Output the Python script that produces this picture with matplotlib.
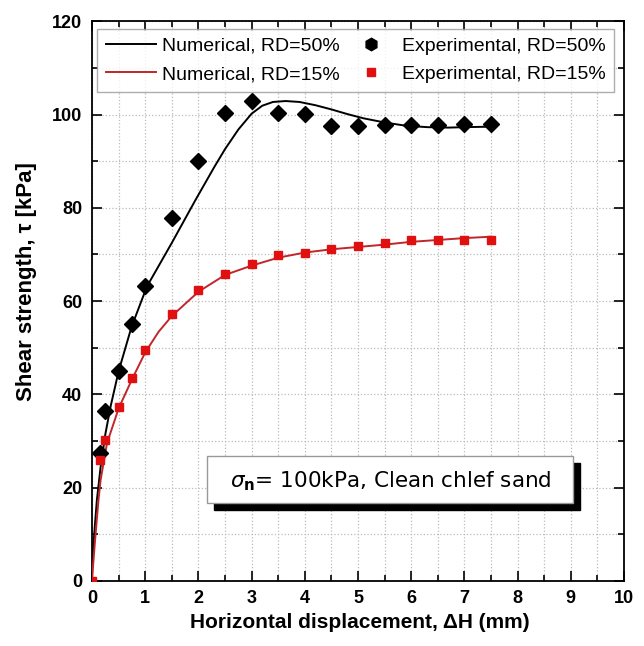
import matplotlib.pyplot as plt
from matplotlib.lines import Line2D
from matplotlib.patches import Rectangle
from matplotlib.ticker import MultipleLocator

plt.rcParams['font.family'] = ['Liberation Sans', 'DejaVu Sans']

# experimental points
exp50_x = [0.15, 0.25, 0.5, 0.75, 1.0, 1.5, 2.0, 2.5, 3.0, 3.5, 4.0, 4.5, 5.0, 5.5, 6.0, 6.5, 7.0, 7.5]
exp50_y = [27.3, 36.5, 45.0, 55.0, 63.2, 77.9, 90.1, 100.4, 102.9, 100.4, 100.1, 97.5, 97.6, 97.7, 97.7, 97.7, 97.9, 97.9]
exp15_x = [0.0, 0.15, 0.25, 0.5, 0.75, 1.0, 1.5, 2.0, 2.5, 3.0, 3.5, 4.0, 4.5, 5.0, 5.5, 6.0, 6.5, 7.0, 7.5]
exp15_y = [0.0, 26.0, 30.2, 37.2, 43.4, 49.4, 57.2, 62.3, 65.9, 67.9, 69.9, 70.4, 71.1, 71.9, 72.4, 73.0, 73.0, 73.0, 73.0]

# numerical curves
num50_x = [0.0, 0.01, 0.05, 0.09, 0.16, 0.25, 0.35, 0.5, 0.74, 1.03, 1.5, 1.94, 2.3, 2.5, 2.75, 3.0, 3.2, 3.4, 3.64,
           3.9, 4.2, 4.5, 4.8, 5.1, 5.5, 5.9, 6.3, 6.7, 7.0, 7.5]
num50_y = [4.0, 5.2, 11.5, 17.3, 24.4, 31.5, 37.5, 45.0, 54.4, 63.1, 72.5, 81.6, 88.8, 92.6, 96.8, 100.2, 101.9, 102.7, 102.9,
           102.7, 102.0, 101.1, 100.1, 99.2, 98.3, 97.6, 97.3, 97.2, 97.3, 97.4]
num15_x = [0.0, 0.02, 0.056, 0.12, 0.16, 0.28, 0.5, 0.75, 1.0, 1.25, 1.5, 2.0, 2.5, 3.0, 3.5, 4.0, 4.5, 5.0,
           5.5, 6.0, 6.5, 7.0, 7.5]
num15_y = [0.0, 3.5, 8.7, 17.3, 21.6, 29.5, 37.0, 43.2, 49.0, 53.4, 56.8, 62.0, 65.6, 67.6, 69.3, 70.4, 71.1, 71.6,
           72.1, 72.7, 73.1, 73.5, 73.8]

fig = plt.figure(figsize=(6.44, 6.46), dpi=100)
ax = fig.add_axes([0.143, 0.101, 0.826, 0.866])

ax.plot(num50_x, num50_y, color='black', lw=1.4, zorder=3)
ax.plot(num15_x, num15_y, color='#c0262b', lw=1.4, zorder=3)
ax.plot(exp50_x, exp50_y, ls='none', marker='D', ms=8, color='black', zorder=4)
ax.plot(exp15_x, exp15_y, ls='none', marker='s', ms=6.3, color='#e01010', zorder=4)

ax.set_xlim(0, 10)
ax.set_ylim(0, 120)
ax.xaxis.set_major_locator(MultipleLocator(1))
ax.xaxis.set_minor_locator(MultipleLocator(0.5))
ax.yaxis.set_major_locator(MultipleLocator(20))
ax.yaxis.set_minor_locator(MultipleLocator(10))
ax.tick_params(which='both', direction='in', top=True, right=True, width=1.2)
ax.tick_params(which='major', length=7, labelsize=13, pad=7)
ax.tick_params(which='minor', length=4)
for lab in ax.get_xticklabels() + ax.get_yticklabels():
    lab.set_fontweight('bold')
for s in ax.spines.values():
    s.set_linewidth(1.3)
ax.grid(True, which='both', color='#bbbbbb', ls=':', lw=0.9, zorder=0)

ax.set_xlabel('Horizontal displacement, \u0394H (mm)', fontsize=15, fontweight='bold')
ax.set_ylabel('Shear strength, \u03c4 [kPa]', fontsize=16, fontweight='bold')
ax.xaxis.set_label_coords(0.504, -0.058)
ax.yaxis.set_label_coords(-0.103, 0.535)

handles = [
    Line2D([], [], color='black', lw=1.4),
    Line2D([], [], color='#c0262b', lw=1.4),
    Line2D([], [], ls='none', marker='h', ms=9, color='black'),
    Line2D([], [], ls='none', marker='s', ms=6, color='#e01010'),
]
labels = ['Numerical, RD=50%', 'Numerical, RD=15%', 'Experimental, RD=50%', 'Experimental, RD=15%']
leg = ax.legend(handles, labels, ncol=2, loc='upper left', bbox_to_anchor=(0.009, 0.987),
                fontsize=14, frameon=True, fancybox=False, edgecolor='#999999',
                handlelength=2.6, handletextpad=0.3, columnspacing=0.3,
                borderpad=0.45, borderaxespad=0.0, labelspacing=0.55)
leg.get_frame().set_linewidth(1.0)

# annotation box with shadow
ax.add_patch(Rectangle((0.229, 0.1265), 0.688, 0.084, transform=ax.transAxes,
                       facecolor='black', edgecolor='black', zorder=5))
ax.add_patch(Rectangle((0.216, 0.139), 0.688, 0.084, transform=ax.transAxes,
                       facecolor='white', edgecolor='#999999', lw=1.0, zorder=6))
ax.text(0.562, 0.178, r'$\sigma_{\mathbf{n}}$= 100kPa, Clean chlef sand', transform=ax.transAxes,
        ha='center', va='center', fontsize=15.5, family='DejaVu Sans', zorder=7)

fig.savefig('out.png', dpi=100)
